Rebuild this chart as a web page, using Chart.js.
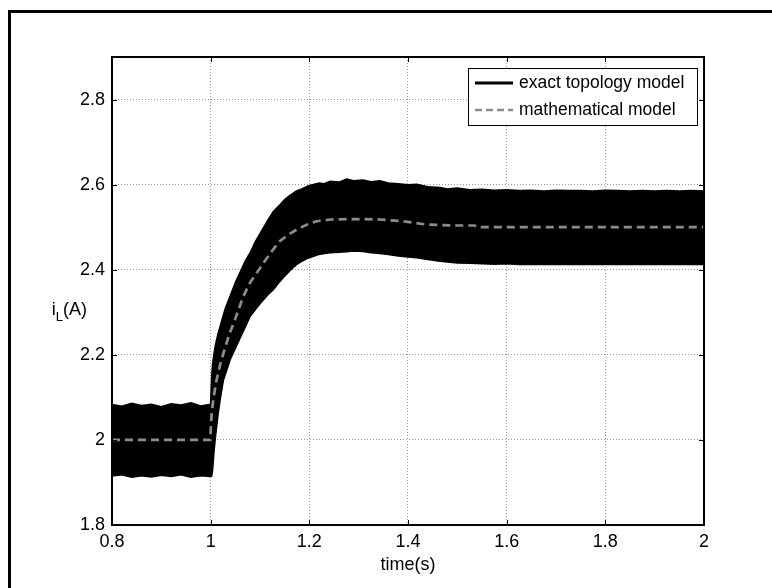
<!DOCTYPE html>
<html>
<head>
<meta charset="utf-8">
<script src="https://cdn.jsdelivr.net/npm/chart.js@4"></script>
<style>
  html, body { margin: 0; padding: 0; background: #fff; }
  #wrap { width: 772px; height: 588px; position: relative; }
</style>
</head>
<body>
<div id="wrap"><canvas id="ilChart" width="772" height="588"></canvas></div>
<script>
// Inductor current step response: switched model (ripple band) vs averaged model

const xTicks = [0.8, 1, 1.2, 1.4, 1.6, 1.8, 2];
const yTicks = [1.8, 2, 2.2, 2.4, 2.6, 2.8];

// envelope of the switching ripple (exact topology model)
const envTime = [0.80, 0.82, 0.84, 0.86, 0.88, 0.90, 0.92, 0.94, 0.96, 0.98, 0.999,
  1.0, 1.002, 1.004, 1.007, 1.01, 1.015, 1.02, 1.026, 1.03, 1.04, 1.05, 1.06, 1.07,
  1.08, 1.09, 1.10, 1.115, 1.127, 1.14, 1.15, 1.16, 1.174, 1.185, 1.195, 1.20, 1.21,
  1.22, 1.23, 1.242, 1.26, 1.276, 1.29, 1.309, 1.325, 1.343, 1.36, 1.38, 1.40, 1.418,
  1.44, 1.465, 1.48, 1.50, 1.525, 1.55, 1.575, 1.60, 1.625, 1.65, 1.675, 1.70, 1.725,
  1.75, 1.775, 1.80, 1.825, 1.85, 1.875, 1.90, 1.925, 1.95, 1.975, 2.0];
const envUpper = [2.083, 2.079, 2.086, 2.081, 2.084, 2.078, 2.085, 2.082, 2.087, 2.080, 2.084,
  2.090, 2.150, 2.180, 2.205, 2.225, 2.250, 2.270, 2.295, 2.310, 2.340, 2.370, 2.395, 2.420,
  2.440, 2.465, 2.485, 2.515, 2.537, 2.552, 2.565, 2.574, 2.585, 2.590, 2.596, 2.598, 2.601,
  2.604, 2.602, 2.608, 2.606, 2.613, 2.609, 2.611, 2.607, 2.609, 2.604, 2.602, 2.600, 2.601,
  2.595, 2.593, 2.590, 2.592, 2.588, 2.589, 2.587, 2.588, 2.586, 2.587, 2.585, 2.587, 2.586,
  2.586, 2.585, 2.587, 2.586, 2.585, 2.586, 2.585, 2.586, 2.585, 2.586, 2.585];
const envLower = [1.915, 1.918, 1.912, 1.916, 1.913, 1.917, 1.914, 1.918, 1.912, 1.916, 1.914,
  1.914, 1.915, 1.930, 1.975, 2.010, 2.060, 2.100, 2.141, 2.155, 2.190, 2.215, 2.240, 2.265,
  2.290, 2.305, 2.320, 2.340, 2.353, 2.372, 2.385, 2.397, 2.412, 2.420, 2.426, 2.428, 2.432,
  2.436, 2.438, 2.440, 2.441, 2.442, 2.444, 2.443, 2.440, 2.438, 2.436, 2.432, 2.430, 2.428,
  2.424, 2.420, 2.418, 2.416, 2.415, 2.414, 2.413, 2.414, 2.412, 2.413, 2.412, 2.413, 2.412,
  2.413, 2.412, 2.412, 2.413, 2.412, 2.413, 2.412, 2.412, 2.413, 2.412, 2.412];

// averaged (mathematical) model
const meanTime = [0.8, 0.999, 1.0, 1.002, 1.006, 1.012, 1.02, 1.03, 1.04, 1.05, 1.066, 1.08,
  1.095, 1.107, 1.125, 1.14, 1.157, 1.174, 1.195, 1.215, 1.245, 1.276, 1.31, 1.343, 1.39,
  1.438, 1.47, 1.5, 1.535, 1.54, 2.0];
const meanVals = [2.0, 2.0, 2.02, 2.063, 2.1, 2.141, 2.18, 2.22, 2.255, 2.285, 2.337, 2.37,
  2.395, 2.416, 2.445, 2.467, 2.482, 2.494, 2.506, 2.514, 2.518, 2.519, 2.519, 2.518, 2.514,
  2.506, 2.505, 2.504, 2.504, 2.5, 2.5];

const FONT = "'Liberation Sans', Arial, Helvetica, sans-serif";
const GRID = '#9a9a9a';
const DASH_GREY = '#8c8c8c';

const toXY = (xs, ys) => xs.map((x, i) => ({ x: x, y: ys[i] }));

// frame, inner tick marks, axis titles and the boxed legend
const matlabDecor = {
  id: 'matlabDecor',
  afterDraw(chart) {
    const { ctx, chartArea: a, scales } = chart;
    ctx.save();

    // figure border
    ctx.strokeStyle = '#000';
    ctx.lineWidth = 3;
    ctx.beginPath();
    ctx.moveTo(9.5, 600);
    ctx.lineTo(9.5, 11.5);
    ctx.lineTo(780, 11.5);
    ctx.stroke();

    // inward ticks on all four sides
    ctx.lineWidth = 1;
    ctx.beginPath();
    xTicks.forEach(v => {
      const px = Math.round(scales.x.getPixelForValue(v)) + 0.5;
      ctx.moveTo(px, a.bottom); ctx.lineTo(px, a.bottom - 5);
      ctx.moveTo(px, a.top); ctx.lineTo(px, a.top + 5);
    });
    yTicks.forEach(v => {
      const py = Math.round(scales.y.getPixelForValue(v)) + 0.5;
      ctx.moveTo(a.left, py); ctx.lineTo(a.left + 5, py);
      ctx.moveTo(a.right, py); ctx.lineTo(a.right - 5, py);
    });
    ctx.stroke();

    // axes box
    ctx.lineWidth = 2;
    ctx.strokeRect(a.left, a.top, a.right - a.left, a.bottom - a.top);

    // x title
    ctx.fillStyle = '#000';
    ctx.font = '18px ' + FONT;
    ctx.textAlign = 'center';
    ctx.textBaseline = 'middle';
    ctx.fillText('time(s)', (a.left + a.right) / 2, 565);

    // y title: i_L(A)
    ctx.textAlign = 'left';
    ctx.textBaseline = 'alphabetic';
    const wA = ctx.measureText('(A)').width;
    ctx.font = '13px ' + FONT;
    const wL = ctx.measureText('L').width;
    ctx.font = '18px ' + FONT;
    const wi = ctx.measureText('i').width;
    let tx = 87 - wA - wL - wi;
    ctx.fillText('i', tx, 315);
    tx += wi;
    ctx.font = '13px ' + FONT;
    ctx.fillText('L', tx, 321);
    tx += wL;
    ctx.font = '18px ' + FONT;
    ctx.fillText('(A)', tx, 315);

    // legend
    const lx = 468, ly = 68, lw = 229, lh = 57;
    ctx.fillStyle = '#fff';
    ctx.fillRect(lx, ly, lw, lh);
    ctx.strokeStyle = '#000';
    ctx.lineWidth = 1;
    ctx.strokeRect(lx + 0.5, ly + 0.5, lw, lh);
    const rows = [
      { label: 'exact topology model', color: '#000', dash: [], width: 3, y: 83 },
      { label: 'mathematical model', color: DASH_GREY, dash: [7, 4], width: 2.5, y: 110 }
    ];
    ctx.font = '17.5px ' + FONT;
    ctx.textBaseline = 'middle';
    rows.forEach(r => {
      ctx.strokeStyle = r.color;
      ctx.lineWidth = r.width;
      ctx.setLineDash(r.dash);
      ctx.beginPath();
      ctx.moveTo(475, r.y); ctx.lineTo(513, r.y);
      ctx.stroke();
      ctx.setLineDash([]);
      ctx.fillStyle = '#000';
      ctx.fillText(r.label, 519, r.y);
    });

    ctx.restore();
  }
};

new Chart(document.getElementById('ilChart'), {
  type: 'line',
  data: {
    datasets: [
      {
        label: 'exact topology model (upper)',
        data: toXY(envTime, envUpper),
        borderColor: '#000',
        borderWidth: 1.5,
        pointRadius: 0,
        fill: false,
        order: 2
      },
      {
        label: 'exact topology model',
        data: toXY(envTime, envLower),
        borderColor: '#000',
        backgroundColor: '#000',
        borderWidth: 1.5,
        pointRadius: 0,
        fill: '-1',
        order: 2
      },
      {
        label: 'mathematical model',
        data: toXY(meanTime, meanVals),
        borderColor: DASH_GREY,
        borderWidth: 2.7,
        borderDash: [8, 5],
        pointRadius: 0,
        fill: false,
        order: 1
      }
    ]
  },
  options: {
    responsive: false,
    animation: false,
    events: [],
    layout: { padding: { left: 0, top: 57, right: 68, bottom: 0 } },
    plugins: {
      legend: { display: false },
      tooltip: { enabled: false }
    },
    scales: {
      x: {
        type: 'linear',
        min: 0.8, max: 2,
        afterFit: (s) => { s.height = 63; },
        afterBuildTicks: (s) => { s.ticks = xTicks.map(v => ({ value: v })); },
        grid: { color: GRID, lineWidth: 1, drawTicks: false },
        border: { display: false, dash: [1, 2] },
        ticks: {
          padding: 6,
          color: '#000',
          font: { family: FONT, size: 18 },
          maxRotation: 0,
          callback: (v) => String(v)
        }
      },
      y: {
        type: 'linear',
        min: 1.8, max: 2.9,
        afterFit: (s) => { s.width = 112; },
        afterBuildTicks: (s) => { s.ticks = yTicks.map(v => ({ value: v })); },
        grid: { color: GRID, lineWidth: 1, drawTicks: false },
        border: { display: false, dash: [1, 2] },
        ticks: {
          padding: 7,
          color: '#000',
          font: { family: FONT, size: 18 },
          callback: (v) => String(v)
        }
      }
    }
  },
  plugins: [matlabDecor]
});
</script>
</body>
</html>
